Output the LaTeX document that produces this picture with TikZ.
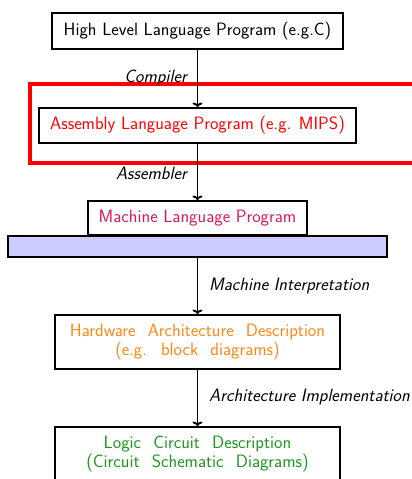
\documentclass[tikz,border=0pt]{standalone}
\usetikzlibrary{arrows.meta}
\renewcommand{\familydefault}{\sfdefault}
\definecolor{mlpcol}{RGB}{215,25,90}
\definecolor{hwcol}{RGB}{255,135,20}
\definecolor{lccol}{RGB}{30,150,30}
\definecolor{barcol}{RGB}{204,204,255}
\newcommand{\widespc}{\spaceskip=0.68em\relax}
\begin{document}
\begin{tikzpicture}[x=1pt,y=-1pt,
  box/.style={draw=black,line width=2pt,fill=white,rectangle,inner sep=0pt,
    font=\sffamily\fontsize{17.9}{19.5}\selectfont,align=center},
  lab/.style={font=\sffamily\itshape\fontsize{17.9}{19.5}\selectfont,inner sep=0pt},
  conn/.style={-{To[length=4.5pt,width=10pt]},line width=1.9pt},
  wide/.style={font=\sffamily\fontsize{17.9}{19.5}\selectfont\widespc}]
\clip (0,0) rectangle (412,479);
\useasboundingbox (0,0) rectangle (412,479);
\node[box,minimum width=291pt,minimum height=36pt] (hl) at (197.5,31) {High Level Language Program (e.g.C)};
\draw[red,line width=3.5pt] (30,84) rectangle (430,163);
\node[box,minimum width=317pt,minimum height=35pt,text=red] (asm) at (197.5,125.5) {Assembly Language Program (e.g. MIPS)};
\node[box,minimum width=219pt,minimum height=34pt,text=mlpcol] (mlp) at (197.5,218) {Machine Language Program};
\node[box,fill=barcol,minimum width=379pt,minimum height=21pt] (bar) at (197.5,246.5) {};
\node[box,wide,minimum width=285pt,minimum height=54pt,text=hwcol] (hw) at (197.5,342) {Hardware Architecture Description\\(e.g. block diagrams)};
\node[box,wide,minimum width=285pt,minimum height=54pt,text=lccol] (lc) at (197.5,454) {Logic Circuit Description\\(Circuit Schematic Diagrams)};
\draw[conn] (hl) -- (asm);
\draw[conn] (asm) -- (mlp);
\draw[conn] (bar) -- (hw);
\draw[conn] (hw) -- (lc);
\node[lab,anchor=east] (l1) at (187,78) {Compiler};
\node[lab,anchor=east] (l2) at (187,173) {Assembler};
\node[lab,anchor=west] (l3) at (209,286) {Machine Interpretation};
\node[lab,anchor=west] (l4) at (209,397) {Architecture Implementation};
\end{tikzpicture}
\end{document}
